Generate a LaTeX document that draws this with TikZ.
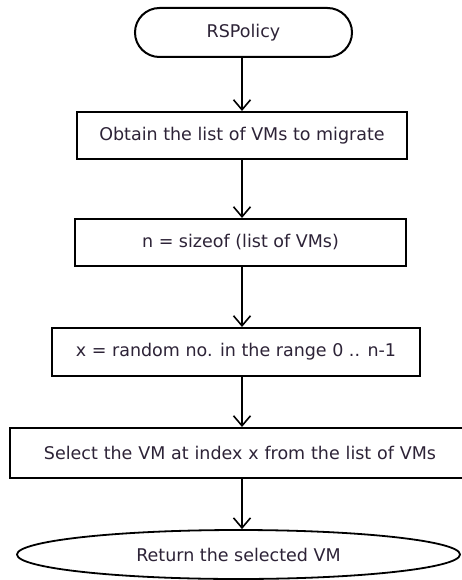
\documentclass[tikz,border=0pt]{standalone}
\usepackage{fontspec}
\setmainfont{DejaVu Sans}
\usetikzlibrary{shapes.geometric,shapes.misc,arrows.meta}
\definecolor{txt}{RGB}{45,35,55}
\begin{document}
\begin{tikzpicture}[x=1pt,y=-1pt,
  every node/.style={font=\fontsize{17.5}{20}\selectfont, text=txt, inner sep=0pt},
  proc/.style={draw=black, line width=2pt, rectangle, fill=white},
  term/.style={draw=black, line width=2pt, rounded rectangle, fill=white},
  endterm/.style={draw=black, line width=1.8pt, ellipse, fill=white},
  arr/.style={draw=black, line width=1.8pt, -{Straight Barb[length=10pt,width=17pt,line width=1.6pt]}}]
\useasboundingbox (0,0) rectangle (461,580);
\node[term, minimum width=217pt, minimum height=49pt] (start) at (243.5,32.5) {RSPolicy};
\node[proc, minimum width=330pt, minimum height=47pt] (b1) at (242,135.5) {Obtain the list of VMs to migrate};
\node[proc, minimum width=331pt, minimum height=47pt] (b2) at (240.5,242.5) {n = sizeof (list of VMs)};
\node[proc, minimum width=368pt, minimum height=48pt] (b3) at (236,352) {x = random no. in the range 0 .. n-1};
\node[proc, minimum width=460pt, minimum height=50pt, text width=440pt, align=center] (b4) at (240,453) {Select the VM at index x from the list of VMs};
\node[endterm, minimum width=443pt, minimum height=49pt] (end) at (238.5,554.5) {Return the selected VM};
\coordinate (ax) at (242,0);
\draw[arr] (start.south -| ax) -- (b1.north -| ax);
\draw[arr] (b1.south -| ax) -- (b2.north -| ax);
\draw[arr] (b2.south -| ax) -- (b3.north -| ax);
\draw[arr] (b3.south -| ax) -- (b4.north -| ax);
\draw[arr] (b4.south -| ax) -- (end.north -| ax);
\end{tikzpicture}
\end{document}
